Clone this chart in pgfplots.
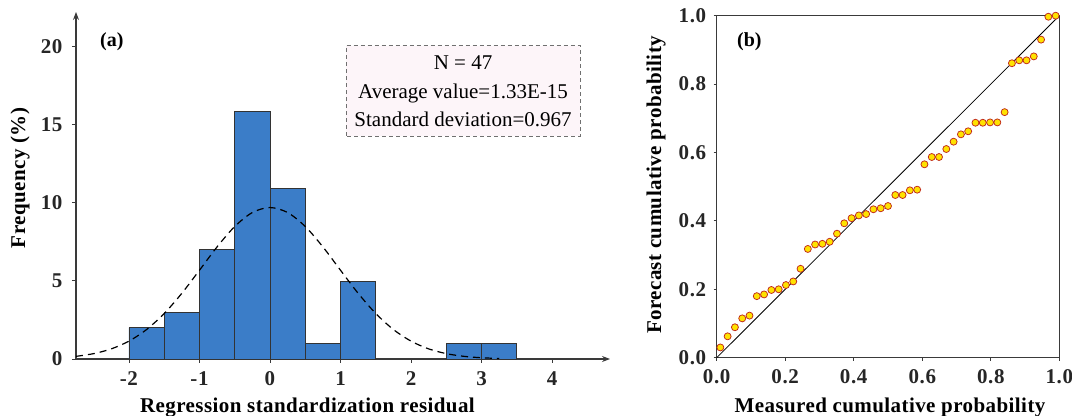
\documentclass[border=0pt]{standalone}
\usepackage{fontspec}
\setmainfont{Liberation Serif}
\usepackage{pgfplots}
\usepackage{pgfplotstable}
\pgfplotsset{compat=1.18}
\usetikzlibrary{arrows.meta}

\definecolor{barblue}{HTML}{3B7DC8}
\definecolor{axisgray}{HTML}{3A3A3A}
\definecolor{markfill}{HTML}{FFE200}
\definecolor{markedge}{HTML}{C0281A}
\definecolor{boxfill}{HTML}{FDF5F9}
\definecolor{boxedge}{HTML}{707070}

\newcommand{\tickfont}{\fontsize{21bp}{21bp}\selectfont\bfseries\addfontfeatures{LetterSpace=3}}
\newcommand{\labelfont}{\fontsize{21bp}{21bp}\selectfont\bfseries\addfontfeatures{LetterSpace=2}}
\newcommand{\boxfont}{\fontsize{21bp}{21bp}\selectfont}

% histogram counts of the standardized residuals (bin left edge, count)
\pgfplotstableread{
x h
-2.0 2
-1.5 3
-1.0 7
-0.5 15.85
0.0 10.9
0.5 1
1.0 4.95
1.5 0
}\histA
\pgfplotstableread{
x h
2.5 1
3.0 1
3.5 0
}\histB

% fitted normal curve (N = 47, bin width 0.5, sd 0.967)
\pgfplotstableread{
x y
-2.75 0.170
-2.50 0.343
-2.25 0.647
-2.00 1.141
-1.75 1.884
-1.50 2.909
-1.25 4.202
-1.00 5.677
-0.75 7.173
-0.50 8.477
-0.25 9.371
0.00 9.690
0.25 9.371
0.50 8.477
0.75 7.173
1.00 5.677
1.25 4.202
1.50 2.909
1.75 1.884
2.00 1.141
2.25 0.647
2.50 0.343
2.75 0.170
3.00 0.079
3.25 0.034
}\normcurve

% measured vs forecast cumulative probability
\pgfplotstableread{
m f
0.0106 0.030
0.0319 0.0625
0.0532 0.089
0.0745 0.115
0.0957 0.123
0.1170 0.180
0.1383 0.185
0.1596 0.198
0.1809 0.200
0.2021 0.2125
0.2234 0.223
0.2447 0.260
0.2660 0.318
0.2872 0.331
0.3085 0.333
0.3298 0.339
0.3511 0.3626
0.3723 0.393
0.3936 0.408
0.4149 0.416
0.4362 0.420
0.4574 0.434
0.4787 0.437
0.5000 0.4435
0.5213 0.4757
0.5426 0.4757
0.5638 0.4894
0.5851 0.4913
0.6064 0.5655
0.6277 0.5868
0.6489 0.5868
0.6702 0.6102
0.6915 0.6316
0.7128 0.6531
0.7340 0.662
0.7553 0.687
0.7766 0.687
0.7979 0.688
0.8191 0.688
0.8404 0.718
0.8617 0.861
0.8830 0.8695
0.9043 0.8695
0.9255 0.881
0.9468 0.930
0.9681 0.997
0.9894 1.000
}\cumprob

\begin{document}
\begin{tikzpicture}
\useasboundingbox (0,0) rectangle (1072bp,416bp);

% ---------- (a) histogram of residuals ----------
\begin{axis}[
  at={(76bp,57bp)}, anchor=south west,
  scale only axis, width=534bp, height=347bp,
  xmin=-2.75, xmax=4.82, ymin=0, ymax=22.2,
  axis lines=left,
  axis line style={axisgray, line width=1.1bp, -{Stealth[length=8bp,width=6bp]}},
  xtick={-2,-1,0,1,2,3,4}, xticklabels={-2,-1,0,1,2,3,4},
  ytick={0,5,10,15,20}, yticklabels={0,5,10,15,20},
  tick align=outside, major tick length=4bp,
  tick style={axisgray, line width=0.8bp},
  ticklabel style={font=\tickfont, text=black!85},
  xticklabel style={yshift=-5bp},
  yticklabel style={xshift=-6bp},
  clip=false,
]
\addplot[ybar interval, fill=barblue, draw=black!80, line width=0.8bp] table[x=x, y=h] {\histA};
\addplot[ybar interval, fill=barblue, draw=black!80, line width=0.8bp] table[x=x, y=h] {\histB};
\addplot[black, line width=1.2bp, dash pattern=on 7bp off 5bp, smooth] table[x=x, y=y] {\normcurve};
\end{axis}

% ---------- (b) cumulative probability plot ----------
\begin{axis}[
  at={(716.7bp,58.3bp)}, anchor=south west,
  scale only axis, width=342.6bp, height=342bp,
  xmin=0, xmax=1, ymin=0, ymax=1,
  axis line style={axisgray, line width=1.1bp},
  xtick={0,0.2,0.4,0.6,0.8,1}, xticklabels={0.0,0.2,0.4,0.6,0.8,1.0},
  ytick={0,0.2,0.4,0.6,0.8,1}, yticklabels={0.0,0.2,0.4,0.6,0.8,1.0},
  xtick pos=bottom, ytick pos=left,
  tick align=outside, major tick length=3bp,
  tick style={axisgray, line width=0.8bp},
  ticklabel style={font=\tickfont, text=black!85},
  xticklabel style={yshift=-5bp},
  yticklabel style={xshift=-4bp},
  clip=false,
]
\addplot[black, line width=0.8bp] coordinates {(0,0) (1,1)};
\addplot[only marks, mark=*, mark size=3.5bp,
  mark options={fill=markfill, draw=markedge, line width=0.75bp}]
  table[x=m, y=f] {\cumprob};
\end{axis}

% panel tags
\node[anchor=base west, inner sep=0, font=\fontsize{20bp}{20bp}\selectfont\bfseries] at (100bp,369.6bp) {(a)};
\node[anchor=base west, inner sep=0, font=\fontsize{20bp}{20bp}\selectfont\bfseries] at (737bp,369.6bp) {(b)};

% statistics box
\draw[boxedge, fill=boxfill, line width=0.9bp, dash pattern=on 4bp off 3bp]
  (346bp,280bp) rectangle (580bp,370.3bp);
\node[anchor=base, inner sep=0, font=\boxfont] at (463bp,346bp) {N = 47};
\node[anchor=base, inner sep=0, font=\boxfont] at (463bp,317.3bp) {Average value=1.33E-15};
\node[anchor=base, inner sep=0, font=\boxfont] at (463bp,289.3bp) {Standard deviation=0.967};

% axis titles
\node[anchor=north, inner sep=0, font=\labelfont] at (307.5bp,18bp) {Regression standardization residual};
\node[anchor=north, inner sep=0, font=\labelfont] at (890bp,18bp) {Measured cumulative probability};
\node[rotate=90, inner sep=0, font=\labelfont] at (20bp,238bp) {Frequency (\%)};
\node[rotate=90, inner sep=0, font=\labelfont] at (656bp,231bp) {Forecast cumulative probability};
\end{tikzpicture}
\end{document}
